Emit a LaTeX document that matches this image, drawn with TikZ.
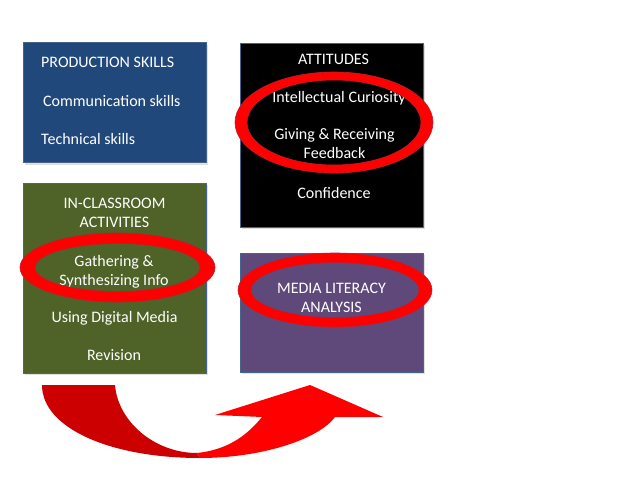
\documentclass[tikz,border=0pt]{standalone}
\usepackage{fontspec}
\setmainfont{Carlito}
\usetikzlibrary{shadows}
\definecolor{prodblue}{RGB}{33,72,123}
\definecolor{classgreen}{RGB}{79,98,40}
\definecolor{mediapurple}{RGB}{95,73,122}
\definecolor{boxedge}{RGB}{70,100,140}
\definecolor{ringred}{RGB}{255,0,0}
\definecolor{ringedge}{RGB}{190,30,45}
\definecolor{arrowdark}{RGB}{204,0,0}

\begin{document}
\begin{tikzpicture}[x=1pt, y=-1pt,
	font=\fontsize{16}{19}\selectfont,
	panel/.style={draw=boxedge, line width=0.6pt, inner sep=0pt, drop shadow={opacity=0.25, shadow xshift=1.5pt, shadow yshift=-2pt}},
	txt/.style={text=white, inner sep=0pt, align=center, anchor=base},
	ring/.style={fill=ringred, draw=ringedge, line width=0.6pt, even odd rule}]
	%%%%% START %%%%%
	\useasboundingbox (0,0) rectangle (638,479);
	
	\node[panel, fill=prodblue, minimum width=183, minimum height=120] (prod) at (114.5,102.5) {};
	\node[panel, fill=black, minimum width=183, minimum height=184] (att) at (331.5,135) {};
	\node[panel, fill=classgreen, minimum width=183, minimum height=190] (class) at (114.5,278) {};
	\node[panel, fill=mediapurple, minimum width=183, minimum height=119] (media) at (331.5,312.5) {};
	
	\node[txt, anchor=base west] (prodtitle) at (41,67) {PRODUCTION SKILLS};
	\node[txt, anchor=base west] (comm) at (43,106) {Communication skills};
	\node[txt, anchor=base west] (tech) at (41,144) {Technical skills};
	
	\node[txt] (atttitle) at (333.5,64) {ATTITUDES};
	\node[txt] (curio) at (339,102) {Intellectual Curiosity};
	\node[txt] (feedb) at (334.5,158) {Giving \& Receiving\\Feedback};
	\node[txt] (conf) at (334,198) {Confidence};
	
	\node[txt] (classtitle) at (114.5,227) {IN-CLASSROOM\\ACTIVITIES};
	\node[txt] (gather) at (114,285) {Gathering \&\\Synthesizing Info};
	\node[txt] (digital) at (114.5,322) {Using Digital Media};
	\node[txt] (revis) at (114,360) {Revision};
	
	\node[txt] (mediatitle) at (331.5,312) {MEDIA LITERACY\\ANALYSIS};
	
	% rings
	\filldraw[ring] (334,122.5) ellipse [x radius=99, y radius=50.5]
		(334,122.5) ellipse [x radius=87, y radius=42.5];
	\filldraw[ring] (117.5,267.5) ellipse [x radius=97.5, y radius=34.5]
		(117.5,267.5) ellipse [x radius=82.5, y radius=24];
	\filldraw[ring] (335,290) ellipse [x radius=97, y radius=37]
		(335,290) ellipse [x radius=84, y radius=27.5];
	
	% turn arrow
	\fill[arrowdark] (42,385) -- (115,385) .. controls (118,422) and (155,453) .. (197,453)
		-- (200,458) .. controls (110,458) and (42,428) .. (42,385) -- cycle;
	\fill[ringred] (197,453) .. controls (225,450) and (245,438) .. (262,417) -- (215,415)
		-- (310,385) -- (383,417) -- (335,417) .. controls (318,440) and (260,458) .. (200,458) -- cycle;
	
	%%%%% END %%%%%
\end{tikzpicture}
\end{document}
